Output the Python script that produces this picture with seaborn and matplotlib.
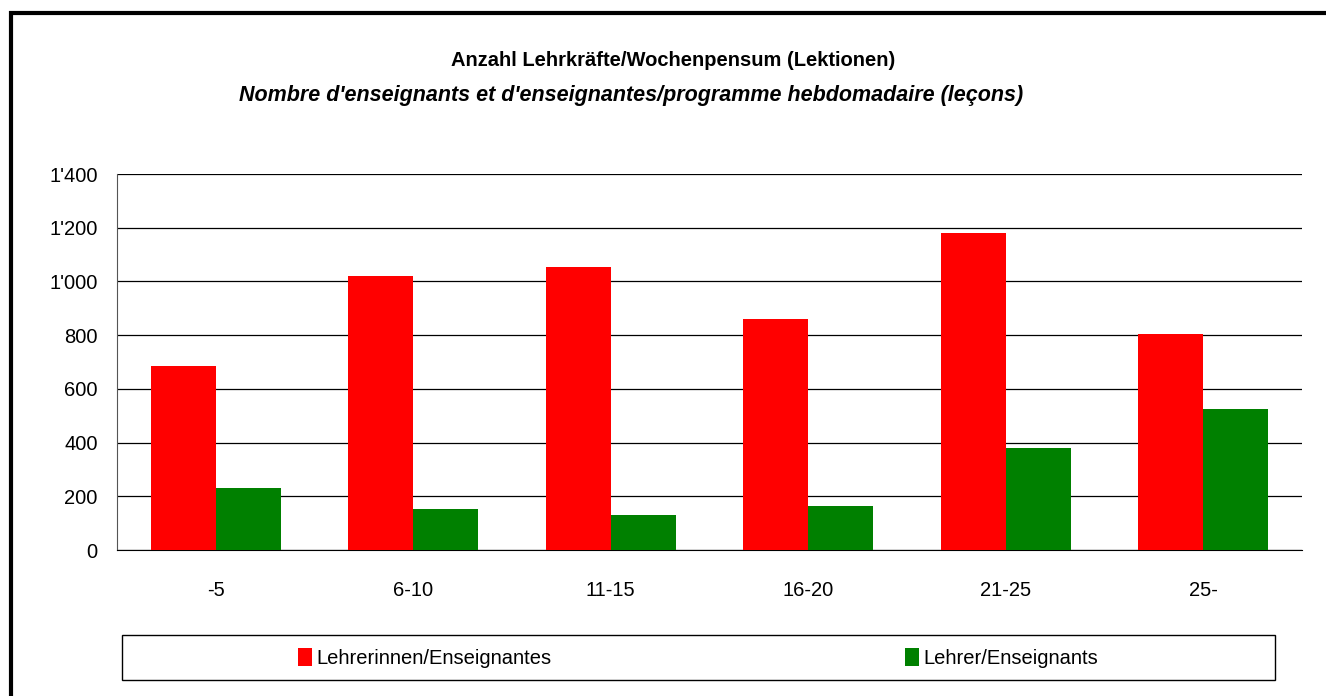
import pandas as pd
import numpy as np
import matplotlib.pyplot as plt
import seaborn as sns
from matplotlib.patches import Rectangle, Patch
from matplotlib.ticker import FuncFormatter

# data
categories = ['-5', '6-10', '11-15', '16-20', '21-25', '25-']
lehrerinnen = [685, 1020, 1052, 860, 1182, 805]
lehrer = [232, 153, 130, 163, 380, 525]
series = ['Lehrerinnen/Enseignantes', 'Lehrer/Enseignants']

df = pd.DataFrame({
    'cat': categories * 2,
    'value': lehrerinnen + lehrer,
    'series': [series[0]] * 6 + [series[1]] * 6,
})

sns.set_style('white')
plt.rcParams['font.family'] = ['Liberation Sans', 'DejaVu Sans']
plt.rcParams['text.color'] = 'black'
plt.rcParams['xtick.color'] = 'black'
plt.rcParams['ytick.color'] = 'black'
plt.rcParams['xtick.labelcolor'] = 'black'
plt.rcParams['ytick.labelcolor'] = 'black'

fig = plt.figure(figsize=(13.26, 6.96), dpi=100)
ax = fig.add_axes([117/1326, 1 - 550/696, (1302-117)/1326, (550-174)/696])

palette = {series[0]: '#FF0000', series[1]: '#008000'}
sns.barplot(data=df, x='cat', y='value', hue='series', palette=palette,
            width=0.66, gap=0, edgecolor='none', linewidth=0, saturation=1,
            ax=ax, legend=False, zorder=3)

ax.set_ylim(0, 1400)
ax.set_xlim(-0.5, 5.5)
ax.set_yticks(range(0, 1401, 200))
ax.yaxis.set_major_formatter(FuncFormatter(lambda v, p: f"{int(v):,}".replace(',', "'")))
ax.yaxis.grid(True, color='black', linewidth=0.9, zorder=0)
ax.set_axisbelow(True)

# category boundaries as ticks, labels in the middle
ax.set_xticks(np.arange(-0.5, 6, 1))
ax.set_xticklabels([])
ax.set_xticks(range(len(categories)), minor=True)
ax.set_xticklabels(categories, minor=True)
ax.tick_params(axis='x', which='major', direction='out', length=8, width=1)
ax.tick_params(axis='x', which='minor', length=0, pad=22, labelsize=14.5)
ax.tick_params(axis='y', direction='out', length=6, width=1, labelsize=14.5, pad=8)
ax.set_xlabel('')
ax.set_ylabel('')

for s in ['top', 'right']:
    ax.spines[s].set_visible(False)
ax.spines['left'].set_color('#555555')
ax.spines['bottom'].set_color('black')

# titles
fig.text(673/1326, 1 - 61/696, 'Anzahl Lehrkräfte/Wochenpensum (Lektionen)',
         ha='center', va='center', fontsize=14.5, fontweight='bold')
fig.text(631/1326, 1 - 95/696,
         "Nombre d'enseignants et d'enseignantes/programme hebdomadaire (leçons)",
         ha='center', va='center', fontsize=15.5, fontweight='bold', style='italic')

# outer frame
fig.patches.append(Rectangle((11/1326, -0.02), 1.05, 1 - 13/696 + 0.02,
                             transform=fig.transFigure, fill=False,
                             edgecolor='black', linewidth=3))

# legend box
fig.patches.append(Rectangle((122/1326, 1 - 680/696), (1275-122)/1326, 45/696,
                             transform=fig.transFigure, fill=False,
                             edgecolor='black', linewidth=1))
handles = [Patch(facecolor=palette[s], edgecolor='none') for s in series]
fig.legend(handles[:1], series[:1], loc='center left',
           bbox_to_anchor=(288/1326, 1 - 658/696), frameon=False, fontsize=14.5,
           handlelength=0.7, handleheight=1.0, handletextpad=0.2, borderpad=0)
fig.legend(handles[1:], series[1:], loc='center left',
           bbox_to_anchor=(895/1326, 1 - 658/696), frameon=False, fontsize=14.5,
           handlelength=0.7, handleheight=1.0, handletextpad=0.2, borderpad=0)

fig.savefig('out.png', dpi=100)
